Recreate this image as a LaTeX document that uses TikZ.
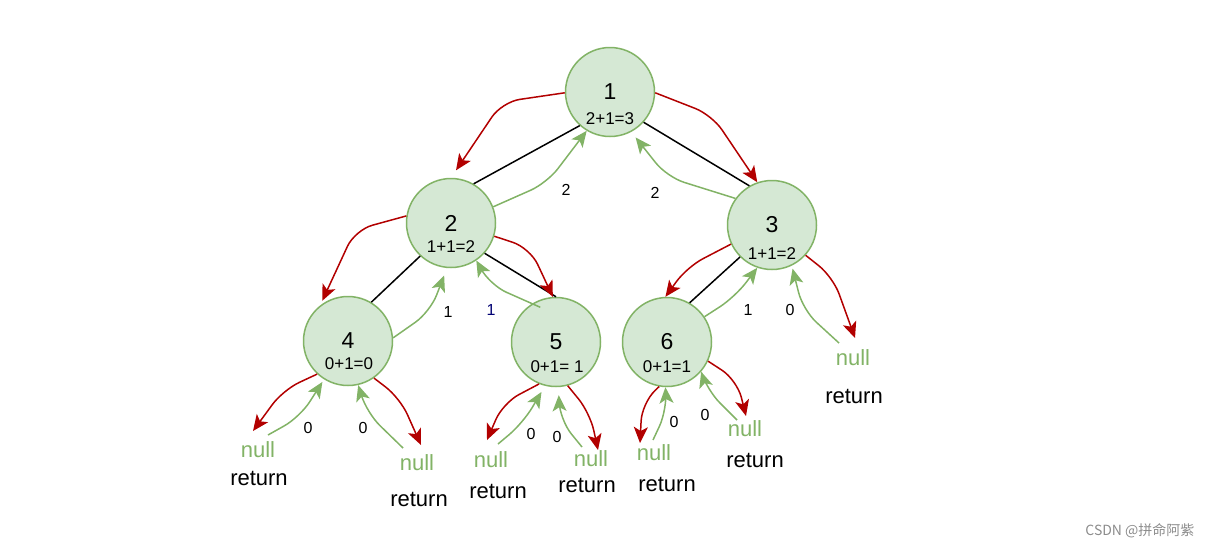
\documentclass[tikz,border=0pt]{standalone}
\usepackage{fontspec}
\setmainfont{Liberation Sans}
\newfontfamily\cjk{Noto Sans CJK SC}
\usepackage{tikz}
\usetikzlibrary{arrows.meta}
\usepackage{xcolor}
\definecolor{callred}{HTML}{B20000}
\definecolor{backgreen}{HTML}{82B366}
\definecolor{nodefill}{HTML}{D5E8D4}

\begin{document}
\begin{tikzpicture}[x=1pt, y=-1pt,
  vertex/.style={draw=backgreen, fill=nodefill, circle, line width=1.5pt,
    minimum size=89pt, inner sep=0pt, font=\fontsize{23}{25}\selectfont},
  sumtext/.style={font=\fontsize{17}{19}\selectfont},
  nulltext/.style={text=backgreen, font=\fontsize{22}{24}\selectfont},
  rettext/.style={font=\fontsize{22}{24}\selectfont},
  cnt/.style={font=\fontsize{16}{18}\selectfont},
  link/.style={draw, line width=1.5pt},
  call/.style={draw=callred, line width=1.5pt, rounded corners=18pt,
    -{Stealth[length=16pt, width=14pt, inset=4pt]}},
  back/.style={draw=backgreen, line width=1.5pt, rounded corners=18pt,
    -{Stealth[length=16pt, width=14pt, inset=4pt]}}]
  \useasboundingbox (0,0) rectangle (1212,550);

  \node [vertex] (n1) at (610,92) {1};
  \node [vertex] (n2) at (451,223) {2};
  \node [vertex] (n3) at (772,225) {3};
  \node [vertex] (n4) at (348,341) {4};
  \node [vertex] (n5) at (556,342) {5};
  \node [vertex] (n6) at (667,342) {6};

  \node [sumtext] (s1) at (610,119) {2+1=3};
  \node [sumtext] (s2) at (451,247) {1+1=2};
  \node [sumtext] (s3) at (772,254) {1+1=2};
  \node [sumtext] (s4) at (349,364) {0+1=0};
  \node [sumtext] (s5) at (557,367) {0+1= 1};
  \node [sumtext] (s6) at (667,367) {0+1=1};

  % null leaves
  \node [nulltext] (z4a) at (258,450) {null};
  \node [rettext] (r4a) at (259,478) {return};
  \node [nulltext] (z4b) at (417,463) {null};
  \node [rettext] (r4b) at (419,499) {return};
  \node [nulltext] (z5a) at (491,460) {null};
  \node [rettext] (r5a) at (498,491) {return};
  \node [nulltext] (z5b) at (591,459) {null};
  \node [rettext] (r5b) at (587,485) {return};
  \node [nulltext] (z6a) at (654,453) {null};
  \node [rettext] (r6a) at (667,484) {return};
  \node [nulltext] (z6b) at (745,429) {null};
  \node [rettext] (r6b) at (755,460) {return};
  \node [nulltext] (z3) at (853,358) {null};
  \node [rettext] (r3) at (854,396) {return};

  \coordinate (t3) at (855,338);
  \coordinate (t4a) at (253,431);
  \coordinate (t4b) at (421,445);
  \coordinate (t5a) at (487,440);
  \coordinate (t5b) at (598,450);
  \coordinate (t6a) at (640,443);
  \coordinate (t6b) at (746,416);
  \coordinate (f3) at (839,343);
  \coordinate (f4a) at (268,435);
  \coordinate (f4b) at (403,448);
  \coordinate (f5a) at (498,444);
  \coordinate (f5b) at (582,447);
  \coordinate (f6a) at (653,440);
  \coordinate (f6b) at (737,420);

  \draw [link] (n1.228) -- (n2.60);
  \draw [link] (n1.318) -- (n3.120);
  \draw [link] (n2.227) -- (n4.59);
  \draw [link] (n2.318) -- (n5.north);
  \draw [link] (n3.225) -- (n6.60);

  % calls
  \draw [call, shorten >=9pt] (n1.181) -- (502,102) -- (n2.north);
  \draw [call] (n1.359) -- (712,115) -- (n3.109);
  \draw [call, shorten >=5pt] (n2.171) -- (355,230) -- (n4.128);
  \draw [call] (n2.343) -- (530,248) -- (n5.94);
  \draw [call] (n3.205) -- (687,267) -- (n6.92);
  \draw [call] (n3.318) -- (833,277) -- (t3);
  \draw [call] (n4.227) -- (283,390) -- (t4a);
  \draw [call] (n4.305) -- (400,398) -- (t4b);
  \draw [call] (n5.248) -- (503,403) -- (t5a);
  \draw [call] (n5.285) -- (590,413) -- (t5b);
  \draw [call] (n6.260) -- (642,403) -- (t6a);
  \draw [call] (n6.335) -- (737,380) -- (t6b);

  % returns
  \draw [back] (n2.21) -- (547,183) -- (n1.239);
  \draw [back, shorten >=7pt] (n3.144) -- (667,177) -- (n1.298);
  \draw [back, shorten >=8pt] (n4.4) -- (430,312) -- (n2.265);
  \draw [back, shorten <=-9pt] (n5.122) -- (490,285) -- (n2.304);
  \draw [back] (n6.34) -- (735,297) -- (n3.251);
  \draw [back, shorten >=3pt] (f3) -- (803,310) -- (n3.296);
  \draw [back, shorten >=3pt] (f4a) -- (300,417) -- (n4.238);
  \draw [back] (f4b) -- (367,413) -- (n4.283);
  \draw [back, shorten >=7pt] (f5a) -- (523,423) -- (n5.256);
  \draw [back, shorten >=8pt] (f5b) -- (560,420) -- (n5.273);
  \draw [back] (f6a) -- (667,410) -- (n6.268);
  \draw [back] (f6b) -- (707,390) -- (n6.319);

  \node [cnt] (c21) at (566,190) {2};
  \node [cnt] (c31) at (655,193) {2};
  \node [cnt] (c42) at (448,312) {1};
  \node [cnt, text=blue!45!black] (c52) at (491,310) {1};
  \node [cnt] (c63) at (748,310) {1};
  \node [cnt] (cz3) at (790,310) {0};
  \node [cnt] (cz4a) at (308,428) {0};
  \node [cnt] (cz4b) at (363,428) {0};
  \node [cnt] (cz5a) at (531,434) {0};
  \node [cnt] (cz5b) at (557,437) {0};
  \node [cnt] (cz6a) at (674,422) {0};
  \node [cnt] (cz6b) at (705,415) {0};

  \node [anchor=east, text=black!45, font=\cjk\fontsize{14}{16}\selectfont] (mark) at (1198,531) {CSDN @拼命阿紫};
\end{tikzpicture}
\end{document}
